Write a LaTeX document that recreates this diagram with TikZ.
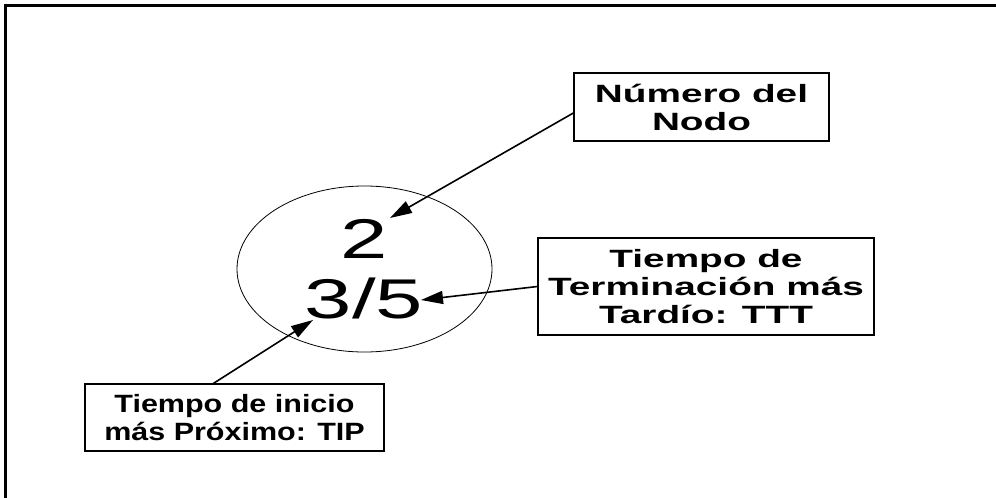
\documentclass[tikz,border=0pt]{standalone}
\usepackage{fontspec}
\usetikzlibrary{arrows.meta,shapes.geometric}
\newfontfamily\boxfont[FakeStretch=1.55]{Liberation Sans}
\newfontfamily\lowfont[FakeStretch=1.22]{Liberation Sans}
\newfontfamily\digfont[FakeStretch=1.52]{Liberation Sans}
\begin{document}
\begin{tikzpicture}[x=1pt,y=-1pt,
  box/.style={draw, line width=1.3pt, inner sep=0pt, align=center,
    font=\boxfont\bfseries\fontsize{25}{28}\selectfont},
  lowbox/.style={box, font=\lowfont\bfseries\fontsize{25}{28}\selectfont},
  digit/.style={inner sep=0pt, font=\digfont\fontsize{56}{60}\selectfont},
  arr/.style={-{Triangle[length=22pt,width=13pt]}, line width=1.6pt},
  frame/.style={line width=3pt}]
\useasboundingbox (0,0) rectangle (996,498);
\draw[frame] (1000,5) -- (5,5) -- (5,502);
\node[draw, ellipse, inner sep=0pt, line width=0.8pt, minimum width=255pt, minimum height=166pt] (el) at (364.5,269) {};
\node[digit, anchor=base] (n2) at (364,258) {2};
\node[digit, anchor=base] (n35) at (364,318) {3/5};
\node[box, minimum width=255pt, minimum height=68pt] (nb) at (701.5,107) {Número del\\Nodo};
\node[box, minimum width=336pt, minimum height=97pt] (nt) at (706,286.5) {Tiempo de\\Terminación más\\Tardío: TTT};
\node[lowbox, minimum width=299pt, minimum height=67pt] (ni) at (234.5,417.5) {Tiempo de inicio\\más Próximo: TIP};
\coordinate (t2) at (390,218);
\coordinate (t35r) at (421,300);
\coordinate (t35l) at (313,320);
\draw[arr] ([yshift=-6pt]nb.west) -- (t2);
\draw[arr] (nt.west) -- (t35r);
\draw[arr] ([xshift=-21pt]ni.north) -- (t35l);
\end{tikzpicture}
\end{document}
